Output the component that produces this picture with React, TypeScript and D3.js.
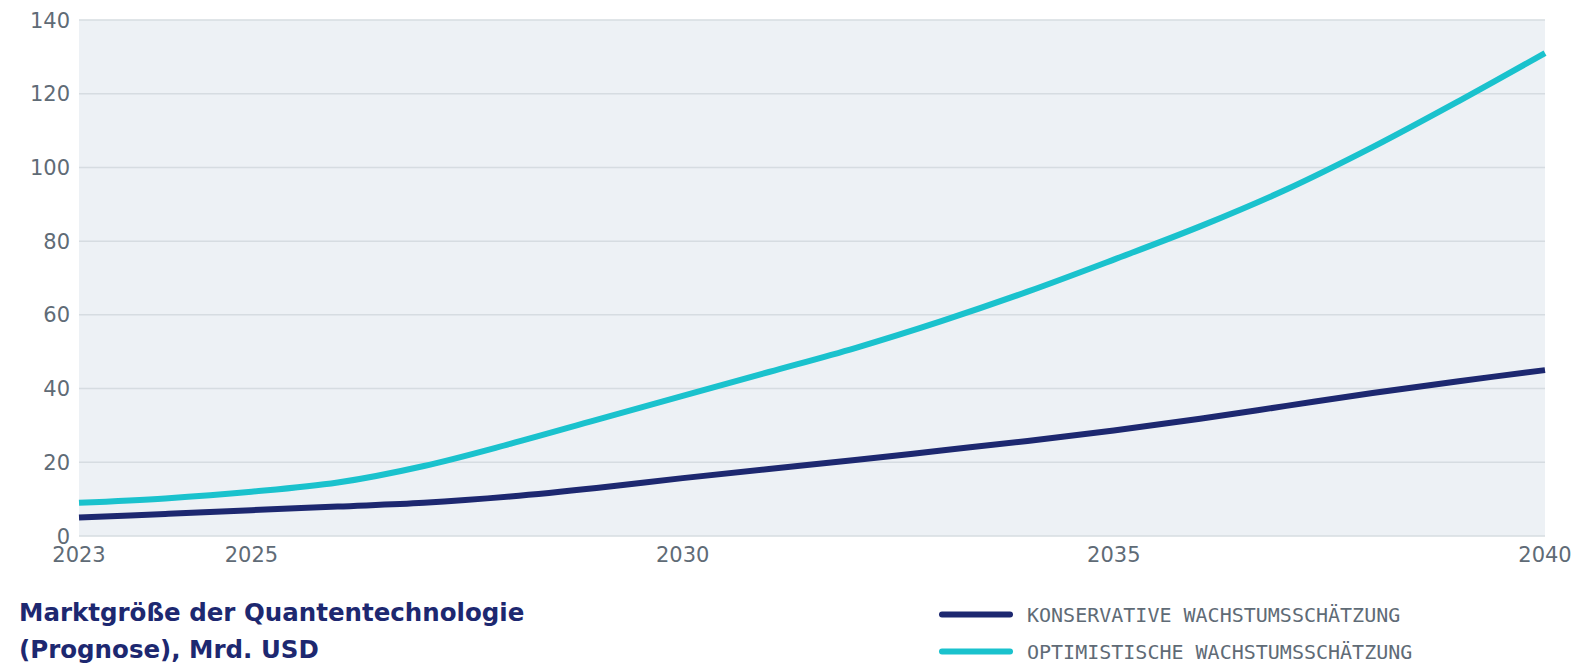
import * as d3 from "d3";

const years = [2023, 2024, 2025, 2026, 2027, 2028, 2029, 2030, 2031, 2032, 2033, 2034, 2035, 2036, 2037, 2038, 2039, 2040];
const konservativ = [5, 6, 7, 8, 9, 10.7, 13, 15.7, 18.2, 20.6, 23.2, 25.8, 28.6, 31.8, 35.3, 38.8, 42, 45];
const optimistisch = [9, 10.2, 12, 14.5, 19, 25, 31.5, 38, 44.5, 51, 58.3, 66.3, 75, 84, 94, 105.5, 118, 131];
const yTicks = [0, 20, 40, 60, 80, 100, 120, 140];
const xTicks = [2023, 2025, 2030, 2035, 2040];
const titleLines = ["Marktgröße der Quantentechnologie", "(Prognose), Mrd. USD"];
const legendLabels = ["KONSERVATIVE WACHSTUMSSCHÄTZUNG", "OPTIMISTISCHE WACHSTUMSSCHÄTZUNG"];

const W = 1572;
const H = 672;
const margin = { top: 20, right: 27, bottom: 136, left: 79 };
const NAVY = "#1d2870";
const CYAN = "#1ac2cd";
const AXIS_TEXT = "#5f6b76";

export default function App() {
  const innerW = W - margin.left - margin.right;
  const innerH = H - margin.top - margin.bottom;

  const x = d3.scaleLinear().domain([2023, 2040]).range([0, innerW]);
  const y = d3.scaleLinear().domain([0, 140]).range([innerH, 0]);

  const line = d3
    .line<number>()
    .x((_, i) => x(years[i]))
    .y((d) => y(d))
    .curve(d3.curveCatmullRom.alpha(0.5));

  const series = [
    { values: konservativ, color: NAVY },
    { values: optimistisch, color: CYAN },
  ];

  return (
    <svg
      width={W}
      height={H}
      style={{ position: "absolute", left: 0, top: 0, background: "#fff" }}
    >
      <g transform={`translate(${margin.left},${margin.top})`}>
        <rect width={innerW} height={innerH} fill="#edf1f5" />

        {/* horizontal grid */}
        {yTicks.map((t) => (
          <line
            key={t}
            x1={0}
            x2={innerW}
            y1={y(t)}
            y2={y(t)}
            stroke="#d6dce1"
            strokeWidth={1.5}
          />
        ))}

        {series.map((s) => (
          <path
            key={s.color}
            d={line(s.values) ?? ""}
            fill="none"
            stroke={s.color}
            strokeWidth={6}
          />
        ))}

        {/* y axis labels */}
        {yTicks.map((t) => (
          <text
            key={t}
            x={-9}
            y={y(t)}
            dy="0.36em"
            textAnchor="end"
            fill={AXIS_TEXT}
            fontFamily="DejaVu Sans"
            fontSize={21}
          >
            {t}
          </text>
        ))}

        {/* x axis labels */}
        {xTicks.map((t) => (
          <text
            key={t}
            x={x(t)}
            y={innerH + 26}
            textAnchor="middle"
            fill={AXIS_TEXT}
            fontFamily="DejaVu Sans"
            fontSize={21}
          >
            {t}
          </text>
        ))}
      </g>

      {/* title */}
      {titleLines.map((l, i) => (
        <text
          key={l}
          x={19}
          y={621 + i * 37}
          fill={NAVY}
          fontFamily="DejaVu Sans"
          fontWeight="bold"
          fontSize={24.5}
        >
          {l}
        </text>
      ))}

      {/* legend */}
      {legendLabels.map((l, i) => (
        <g key={l} transform={`translate(940,${614.5 + i * 37})`}>
          <line
            x1={2}
            x2={70}
            stroke={series[i].color}
            strokeWidth={6}
            strokeLinecap="round"
          />
          <text
            x={87}
            dy="0.35em"
            fill={AXIS_TEXT}
            fontFamily="DejaVu Sans Mono"
            fontSize={20}
          >
            {l}
          </text>
        </g>
      ))}
    </svg>
  );
}
